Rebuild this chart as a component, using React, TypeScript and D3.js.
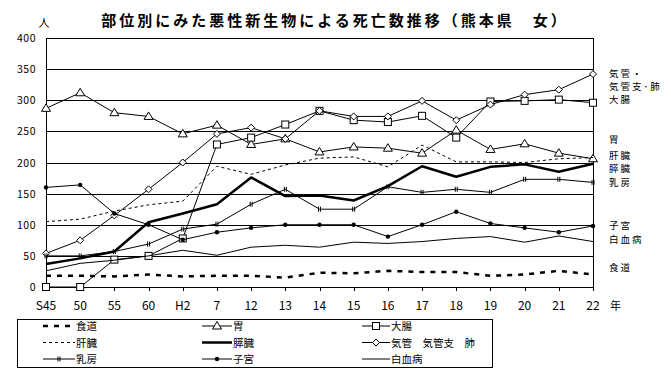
import React from "react";
import * as d3 from "d3";

// 年次 (昭和45年 ～ 平成22年)
const categories = ["S45", "50", "55", "60", "H2", "7", "12", "13", "14", "15", "16", "17", "18", "19", "20", "21", "22"];

// 死亡数 (人)
const esophagus = [18, 18, 17, 20, 17, 18, 18, 15, 23, 22, 26, 24, 24, 18, 20, 26, 20];
const stomach = [287, 312, 280, 274, 246, 260, 229, 238, 217, 225, 223, 215, 252, 221, 230, 215, 206];
const colon = [0, 0, 44, 50, 78, 229, 240, 261, 283, 268, 265, 275, 240, 298, 299, 301, 296];
const liver = [105, 109, 122, 132, 138, 194, 181, 196, 207, 209, 193, 228, 201, 201, 200, 206, 208];
const pancreas = [37, 46, 57, 104, 118, 133, 176, 146, 147, 139, 162, 194, 177, 193, 197, 185, 198];
const lung = [54, 75, 115, 157, 200, 246, 256, 238, 283, 274, 274, 299, 268, 293, 309, 317, 342];
const breast = [50, 50, 57, 69, 93, 101, 133, 157, 125, 125, 161, 152, 157, 152, 173, 173, 168];
const uterus = [160, 164, 118, 100, 76, 88, 95, 100, 100, 100, 81, 100, 121, 102, 95, 88, 98];
const leukemia = [26, 38, 43, 50, 59, 51, 64, 67, 64, 72, 70, 73, 78, 81, 72, 82, 73];

const yTicks = [0, 50, 100, 150, 200, 250, 300, 350, 400];

type Marker = "none" | "triangle" | "square" | "diamond" | "dot" | "bar";

interface Series {
  name: string;
  legend: string;
  values: number[];
  width: number;
  dash?: string;
  marker: Marker;
}

const series: Series[] = [
  { name: "esophagus", legend: "食道", values: esophagus, width: 2.5, dash: "5,6", marker: "none" },
  { name: "stomach", legend: "胃", values: stomach, width: 1, marker: "triangle" },
  { name: "colon", legend: "大腸", values: colon, width: 1, marker: "square" },
  { name: "liver", legend: "肝臓", values: liver, width: 1, dash: "3,3", marker: "none" },
  { name: "pancreas", legend: "膵臓", values: pancreas, width: 2.5, marker: "none" },
  { name: "lung", legend: "気管　気管支　肺", values: lung, width: 1, marker: "diamond" },
  { name: "breast", legend: "乳房", values: breast, width: 1, marker: "bar" },
  { name: "uterus", legend: "子宮", values: uterus, width: 1, marker: "dot" },
  { name: "leukemia", legend: "白血病", values: leukemia, width: 1, marker: "none" },
];

// labels at the right end of the plot (pixel y)
const sideLabels: [string, number][] = [
  ["気管・", 73],
  ["気管支･肺", 86],
  ["大腸", 99],
  ["胃", 139],
  ["肝臓", 155],
  ["膵臓", 168],
  ["乳房", 182],
  ["子宮", 225],
  ["白血病", 239],
  ["食道", 267],
];

const W = 671;
const H = 386;
const font = "'Noto Sans CJK JP', sans-serif";

const x = d3.scalePoint<string>().domain(categories).range([46, 593]);
const y = d3.scaleLinear().domain([0, 400]).range([287, 38]);

function MarkerShape({ type, cx, cy }: { type: Marker; cx: number; cy: number }) {
  if (type === "triangle") {
    return <path d={`M${cx},${cy - 4.5}L${cx + 4.5},${cy + 3}L${cx - 4.5},${cy + 3}Z`} fill="white" stroke="black" />;
  }
  if (type === "square") {
    return <rect x={cx - 3.5} y={cy - 3.5} width={7} height={7} fill="white" stroke="black" />;
  }
  if (type === "diamond") {
    return <path d={`M${cx},${cy - 3.5}L${cx + 3.5},${cy}L${cx},${cy + 3.5}L${cx - 3.5},${cy}Z`} fill="white" stroke="black" />;
  }
  if (type === "dot") {
    return <circle cx={cx} cy={cy} r={2.2} fill="black" />;
  }
  if (type === "bar") {
    return <path d={`M${cx - 1},${cy - 2.5}V${cy + 2.5}M${cx + 1},${cy - 2.5}V${cy + 2.5}`} stroke="black" />;
  }
  return null;
}

export default function App() {
  const line = d3
    .line<number>()
    .x((_, i) => x(categories[i])!)
    .y((d) => y(d));

  const legendCols = [
    { x0: 43, x1: 75, tx: 76 },
    { x0: 202, x1: 232, tx: 233 },
    { x0: 362, x1: 390, tx: 391 },
  ];
  const legendRows = [326, 342.5, 359];

  return (
    <svg
      width={W}
      height={H}
      style={{ position: "absolute", left: 0, top: 0, background: "white" }}
      fontFamily={font}
    >
      <rect width={W} height={H} fill="white" />

      <text x={335} y={26} textAnchor="middle" fontSize={15} fontWeight="bold" letterSpacing={3}>
        部位別にみた悪性新生物による死亡数推移（熊本県　女）
      </text>
      <text x={44} y={27} textAnchor="middle" fontSize={11}>
        人
      </text>

      {/* grid + y labels */}
      {yTicks.map((t) => (
        <g key={t}>
          <line x1={46} x2={593} y1={Math.round(y(t)) + 0.5} y2={Math.round(y(t)) + 0.5} stroke="black" />
          <text x={36} y={y(t) + 4} textAnchor="end" fontSize={10.5} letterSpacing={0.5}>
            {t}
          </text>
        </g>
      ))}
      <line x1={46.5} x2={46.5} y1={y(400)} y2={y(0)} stroke="black" />
      <line x1={593.5} x2={593.5} y1={y(400)} y2={y(0)} stroke="black" />

      {/* x ticks + labels */}
      {categories.map((c) => (
        <g key={c}>
          <line x1={Math.round(x(c)!) + 0.5} x2={Math.round(x(c)!) + 0.5} y1={y(0)} y2={y(0) + 4} stroke="black" />
          <text x={x(c)!} y={310} textAnchor="middle" fontSize={12}>
            {c}
          </text>
        </g>
      ))}
      <text x={610} y={310} fontSize={11}>
        年
      </text>

      {/* series */}
      {series.map((s) => (
        <g key={s.name}>
          <path
            d={line(s.values) ?? ""}
            fill="none"
            stroke="black"
            strokeWidth={s.width}
            strokeDasharray={s.dash}
            strokeLinejoin="round"
          />
          {s.values.map((v, i) => (
            <MarkerShape key={i} type={s.marker} cx={x(categories[i])!} cy={y(v)} />
          ))}
        </g>
      ))}

      {/* right labels */}
      {sideLabels.map(([t, ly]) => (
        <text key={t} x={609} y={ly + 3.5} fontSize={9.5} letterSpacing={2}>
          {t}
        </text>
      ))}

      {/* legend */}
      <rect x={17.5} y={319.5} width={475} height={48} fill="white" stroke="black" />
      {series.map((s, i) => {
        const col = legendCols[i % 3];
        const ly = legendRows[Math.floor(i / 3)];
        return (
          <g key={s.name}>
            <line
              x1={col.x0}
              x2={col.x1}
              y1={ly}
              y2={ly}
              stroke="black"
              strokeWidth={s.width}
              strokeDasharray={s.dash}
            />
            <MarkerShape type={s.marker} cx={(col.x0 + col.x1) / 2} cy={ly} />
            <text x={col.tx} y={ly + 4} fontSize={10.5}>
              {s.legend}
            </text>
          </g>
        );
      })}
    </svg>
  );
}
